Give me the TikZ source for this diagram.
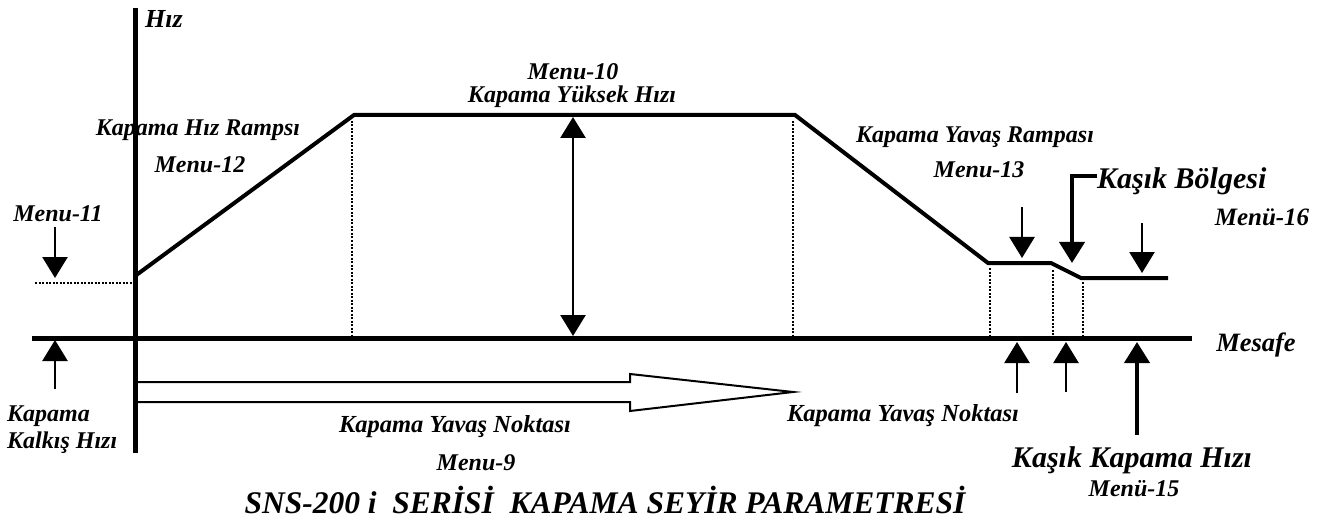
\documentclass[tikz,border=0pt]{standalone}
\usepackage{fontspec}
\setmainfont{Liberation Serif}
\usetikzlibrary{arrows.meta}
\tikzset{
  lbl/.style={inner sep=0pt, font=\fontsize{24}{26}\selectfont\bfseries\itshape},
  lblr/.style={inner sep=0pt, font=\fontsize{24.5}{27}\selectfont\bfseries\itshape},
  big/.style={inner sep=0pt, font=\fontsize{30}{32}\selectfont\bfseries\itshape},
  ttl/.style={inner sep=0pt, font=\fontsize{31.5}{33}\selectfont\bfseries\itshape},
  axis/.style={line width=5pt},
  prof/.style={line width=4pt, line join=miter},
  dots/.style={line width=2.4pt, dash pattern=on 2pt off 1.5pt},
  tri/.style={-{Triangle[width=25pt,length=21pt]}},
  tribi/.style={{Triangle[width=25pt,length=21pt]}-{Triangle[width=25pt,length=21pt]}},
  thin/.style={line width=2.5pt},
  thick/.style={line width=4pt},
}
\begin{document}
\begin{tikzpicture}[x=1pt,y=-1pt]
\useasboundingbox (0,0) rectangle (1329,521);

% axes
\coordinate (vtop) at (135,8);
\coordinate (vbot) at (135,453);
\coordinate (hl) at (32,338);
\coordinate (hr) at (1192,338);
\draw[axis] (vtop) -- (vbot);
\draw[axis] (hl) -- (hr);

% speed profile
\coordinate (p0) at (135,276);
\coordinate (p1) at (354,115);
\coordinate (p2) at (795,115);
\coordinate (p3) at (988,263);
\coordinate (p4) at (1051,263);
\coordinate (p5) at (1081,278);
\coordinate (p6) at (1168,278);
\draw[prof] (p0) -- (p1) -- (p2) -- (p3) -- (p4) -- (p5) -- (p6);
\draw[dots] (35,283) -- (133,283);

% dotted verticals
\draw[dots] (352,121) -- (352,335);
\draw[dots] (793,121) -- (793,335);
\draw[dots] (990,268) -- (990,335);
\draw[dots] (1053,270) -- (1053,335);
\draw[dots] (1083,282) -- (1083,335);

% double arrow
\coordinate (da1) at (573,117);
\coordinate (da2) at (573,336);
\draw[thin, tribi] (da1) -- (da2);

% left arrows
\coordinate (m11a) at (55,227);
\coordinate (m11b) at (55,278);
\draw[thin, tri] (m11a) -- (m11b);
\coordinate (kka) at (55,389);
\coordinate (kkb) at (55,340);
\draw[thin, tri] (kka) -- (kkb);

% right down arrows
\coordinate (d1a) at (1022,207);
\coordinate (d1b) at (1022,258);
\draw[thin, tri] (d1a) -- (d1b);
\coordinate (kb0) at (1097,176);
\coordinate (kb1) at (1072,176);
\coordinate (kb2) at (1072,263);
\draw[thick, tri] (kb0) -- (kb1) -- (kb2);
\coordinate (d3a) at (1142,223);
\coordinate (d3b) at (1142,273);
\draw[thin, tri] (d3a) -- (d3b);

% right up arrows
\coordinate (u1a) at (1017,393);
\coordinate (u1b) at (1017,342);
\draw[thin, tri] (u1a) -- (u1b);
\coordinate (u2a) at (1066,392);
\coordinate (u2b) at (1066,342);
\draw[thin, tri] (u2a) -- (u2b);
\coordinate (u3a) at (1137,435);
\coordinate (u3b) at (1137,342);
\draw[thick, tri] (u3a) -- (u3b);

% block arrow
\draw[line width=2pt, fill=white, line join=miter]
  (138,382) -- (630,382) -- (630,374) -- (793,392) -- (630,411) -- (630,402) -- (138,402);

% labels
\node[lbl, font=\fontsize{26}{28}\selectfont\bfseries\itshape] (hiz) at (164,19) {Hız};
\node[lbl] (khr) at (198,130) {Kapama Hız Rampsı};
\node[lbl] (m12) at (200,165) {Menu-12};
\node[lbl] (m11) at (58,214) {Menu-11};
\node[lbl] (m10) at (573,72) {Menu-10};
\node[lbl] (kyh) at (572,97) {Kapama Yüksek Hızı};
\node[lbl] (kyr) at (975,137) {Kapama Yavaş Rampası};
\node[lbl] (m13) at (979,170) {Menu-13};
\node[big, anchor=west] (kbol) at (1097,181) {Kaşık Bölgesi};
\node[lbl, font=\fontsize{25}{27}\selectfont\bfseries\itshape] (m16) at (1262,217) {Menü-16};
\node[lbl, font=\fontsize{26.5}{28}\selectfont\bfseries\itshape] (mes) at (1256,345) {Mesafe};
\node[lbl, anchor=west] (kap) at (7,416) {Kapama};
\node[lbl, anchor=west] (kalk) at (7,443) {Kalkış Hızı};
\node[lblr] (kyn1) at (455,427) {Kapama Yavaş Noktası};
\node[lbl] (m9) at (476,463) {Menu-9};
\node[lblr] (kyn2) at (903,416) {Kapama Yavaş Noktası};
\node[big] (kkh) at (1132,460) {Kaşık Kapama Hızı};
\node[lbl] (m15) at (1134,489) {Menü-15};
\node[ttl, anchor=base] (title) at (605,513) {SNS-200 i\ \ SERİSİ\ \ KAPAMA SEYİR PARAMETRESİ};
\end{tikzpicture}
\end{document}
